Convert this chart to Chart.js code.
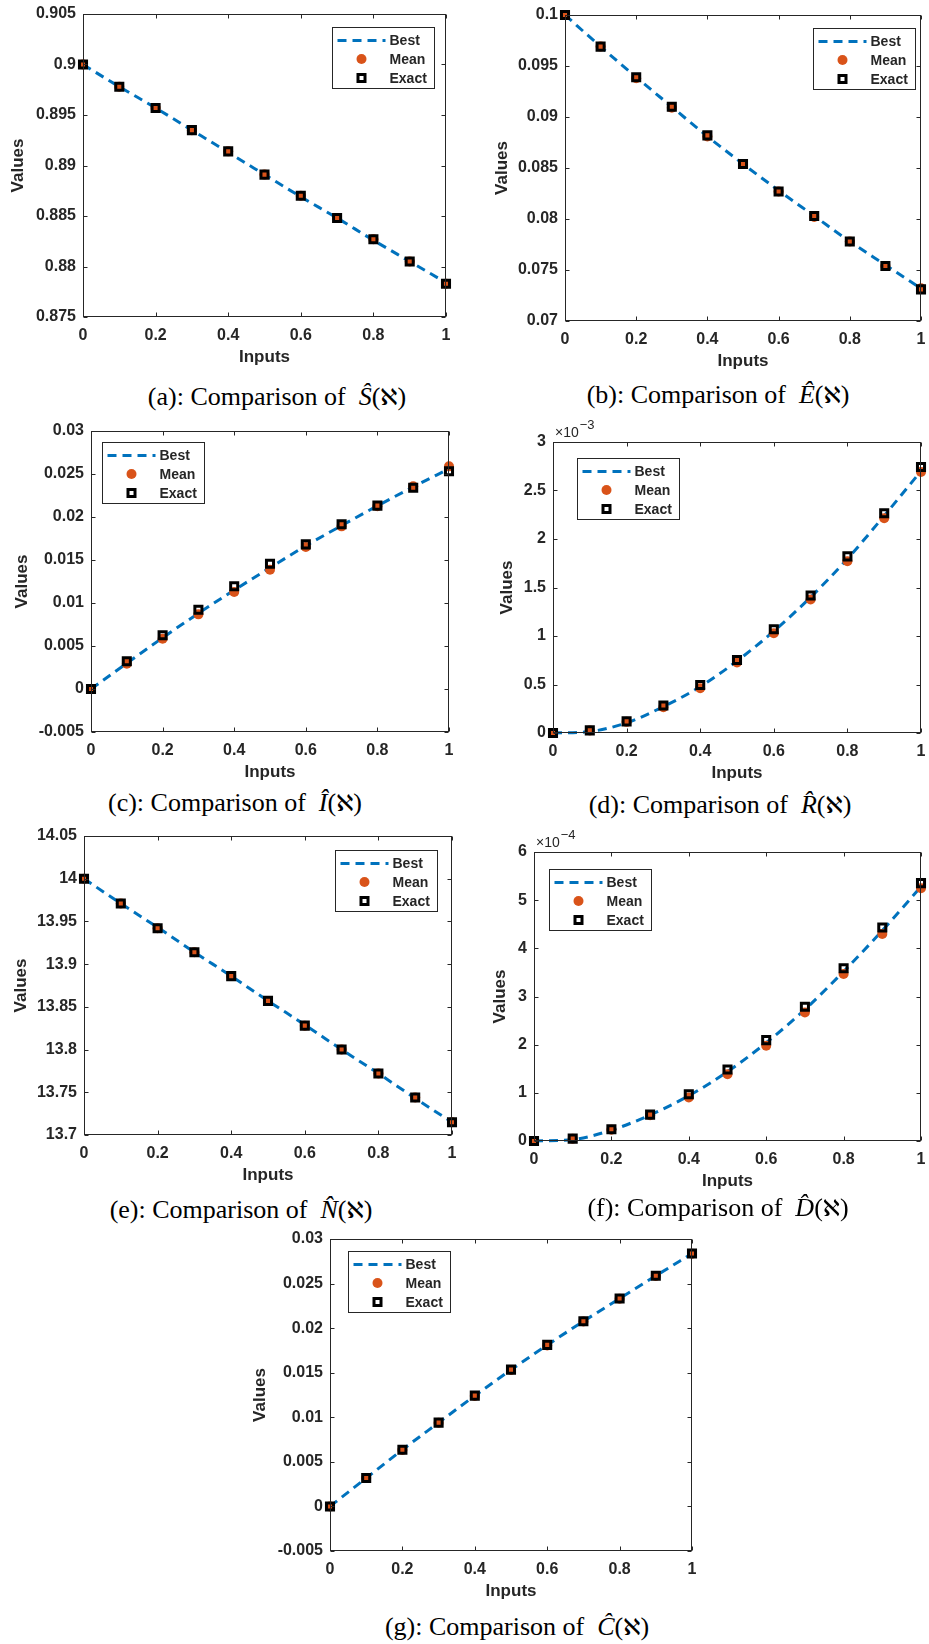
<!DOCTYPE html>
<html>
<head>
<meta charset="utf-8">
<script src="https://cdn.jsdelivr.net/npm/chart.js@4.4.0/dist/chart.umd.min.js"></script>
<style>
  html, body { margin: 0; padding: 0; background: #fff; width: 929px; height: 1644px; overflow: hidden; }
  .panel { position: absolute; }
  .caption {
    position: absolute; width: 440px; text-align: center; white-space: nowrap;
    font-family: "Liberation Serif", "Times New Roman", serif; font-size: 26px; line-height: 30px; color: #000;
  }
  .aleph { font-family: "DejaVu Serif", "DejaVu Sans", serif; font-size: 23px; }
</style>
</head>
<body>
<script>
const inputs = [0, 0.1, 0.2, 0.3, 0.4, 0.5, 0.6, 0.7, 0.8, 0.9, 1];
const xTicks = [0, 0.2, 0.4, 0.6, 0.8, 1];

// (a) S
const sExact = [0.9000, 0.8978, 0.8957, 0.8935, 0.8914, 0.8891, 0.8870, 0.8848, 0.8827, 0.8805, 0.8783];
const sMean = [0.9000, 0.8978, 0.8957, 0.8935, 0.8914, 0.8891, 0.8870, 0.8848, 0.8827, 0.8805, 0.8783];
const sBest = [0.9000, 0.8978, 0.8957, 0.8935, 0.8913, 0.8891, 0.8869, 0.8848, 0.8826, 0.8805, 0.8784];
const sTicks = [0.875, 0.88, 0.885, 0.89, 0.895, 0.9, 0.905];

// (b) E
const eExact = [0.1000, 0.0969, 0.0939, 0.0910, 0.0882, 0.0854, 0.0827, 0.0803, 0.0778, 0.0754, 0.0731];
const eMean = [0.1000, 0.0969, 0.0938, 0.0909, 0.0881, 0.0854, 0.0827, 0.0802, 0.0778, 0.0754, 0.0732];
const eBest = [0.1000, 0.0969, 0.0939, 0.0910, 0.0881, 0.0854, 0.0828, 0.0803, 0.0778, 0.0755, 0.0732];
const eTicks = [0.07, 0.075, 0.08, 0.085, 0.09, 0.095, 0.1];

// (c) I
const iExact = [0, 0.00322, 0.00624, 0.00922, 0.01194, 0.01457, 0.01682, 0.01915, 0.02132, 0.02341, 0.02531];
const iMean = [0, 0.00295, 0.00585, 0.00868, 0.01128, 0.01388, 0.01651, 0.01891, 0.02124, 0.02357, 0.02589];
const iBest = [0, 0.00300, 0.00595, 0.00880, 0.01150, 0.01410, 0.01665, 0.01900, 0.02130, 0.02350, 0.02560];
const iTicks = [-0.005, 0, 0.005, 0.01, 0.015, 0.02, 0.025, 0.03];

// (d) R
const rExact = [0, 0.027e-3, 0.120e-3, 0.284e-3, 0.495e-3, 0.752e-3, 1.069e-3, 1.418e-3, 1.821e-3, 2.265e-3, 2.743e-3];
const rMean = [0, 0.025e-3, 0.115e-3, 0.266e-3, 0.461e-3, 0.728e-3, 1.028e-3, 1.377e-3, 1.770e-3, 2.214e-3, 2.692e-3];
const rBest = [0, 0.015e-3, 0.105e-3, 0.272e-3, 0.478e-3, 0.742e-3, 1.050e-3, 1.400e-3, 1.795e-3, 2.240e-3, 2.700e-3];
const rTicks = [0, 0.5e-3, 1e-3, 1.5e-3, 2e-3, 2.5e-3, 3e-3];

// (e) N
const nExact = [14.000, 13.971, 13.942, 13.914, 13.886, 13.857, 13.828, 13.800, 13.772, 13.744, 13.715];
const nMean = [14.000, 13.971, 13.942, 13.914, 13.886, 13.857, 13.828, 13.800, 13.772, 13.744, 13.715];
const nBest = [14.000, 13.971, 13.943, 13.914, 13.886, 13.857, 13.829, 13.800, 13.772, 13.743, 13.715];
const nTicks = [13.7, 13.75, 13.8, 13.85, 13.9, 13.95, 14, 14.05];

// (f) D
const dExact = [0, 0.049e-4, 0.243e-4, 0.548e-4, 0.971e-4, 1.484e-4, 2.094e-4, 2.788e-4, 3.585e-4, 4.431e-4, 5.354e-4];
const dMean = [0, 0.045e-4, 0.235e-4, 0.535e-4, 0.902e-4, 1.387e-4, 1.977e-4, 2.670e-4, 3.468e-4, 4.300e-4, 5.250e-4];
const dBest = [0, 0.030e-4, 0.225e-4, 0.540e-4, 0.940e-4, 1.440e-4, 2.040e-4, 2.730e-4, 3.520e-4, 4.370e-4, 5.280e-4];
const dTicks = [0, 1e-4, 2e-4, 3e-4, 4e-4, 5e-4, 6e-4];

// (g) C
const cExact = [0, 0.00318, 0.00636, 0.00940, 0.01243, 0.01535, 0.01812, 0.02078, 0.02332, 0.02587, 0.02837];
const cMean = [0, 0.00318, 0.00634, 0.00938, 0.01240, 0.01530, 0.01805, 0.02075, 0.02330, 0.02585, 0.02835];
const cBest = [0, 0.00318, 0.00636, 0.00940, 0.01242, 0.01533, 0.01810, 0.02077, 0.02332, 0.02587, 0.02837];
const cTicks = [-0.005, 0, 0.005, 0.01, 0.015, 0.02, 0.025, 0.03];

const BLUE = "#0072BD";
const ORANGE = "#D95319";
const AXIS = "#262626";
const FONT = '"Liberation Sans", Arial, sans-serif';
const ALEPH = '(<span class="aleph">ℵ</span>)';

// plot: [left, top, right, bottom] of the axes box on the page
const panels = [
    { plot: [83, 14, 446, 317], yTitle: 65, legend: [332, 27], caption: [277, 397], label: "(a): Comparison of&nbsp;&nbsp;<i>Ŝ</i>" + ALEPH, exact: sExact, mean: sMean, best: sBest, yTicks: sTicks },
    { plot: [565, 15, 927, 321], yTitle: 63, legend: [813, 28], caption: [718, 395], label: "(b): Comparison of&nbsp;&nbsp;<i>Ê</i>" + ALEPH, exact: eExact, mean: eMean, best: eBest, yTicks: eTicks },
    { plot: [91, 431, 449, 732], yTitle: 69, legend: [102, 442], caption: [235, 803], label: "(c): Comparison of&nbsp;&nbsp;<i>Î</i>" + ALEPH, exact: iExact, mean: iMean, best: iBest, yTicks: iTicks },
    { plot: [553, 442, 926, 733], yTitle: 46, legend: [577, 458], caption: [720, 805], label: "(d): Comparison of&nbsp;&nbsp;<i>R&#770;</i>" + ALEPH, exact: rExact, mean: rMean, best: rBest, yTicks: rTicks, factor: 1e-3, exp: "−3" },
    { plot: [84, 836, 452, 1135], yTitle: 63, legend: [335, 850], caption: [241, 1210], label: "(e): Comparison of&nbsp;&nbsp;<i>N&#770;</i>" + ALEPH, exact: nExact, mean: nMean, best: nBest, yTicks: nTicks },
    { plot: [534, 852, 926, 1141], yTitle: 34, legend: [549, 869], caption: [718, 1208], label: "(f): Comparison of&nbsp;&nbsp;<i>D&#770;</i>" + ALEPH, exact: dExact, mean: dMean, best: dBest, yTicks: dTicks, factor: 1e-4, exp: "−4" },
    { plot: [330, 1239, 692, 1551], yTitle: 70, legend: [348, 1251], caption: [517, 1627], label: "(g): Comparison of&nbsp;&nbsp;<i>Ĉ</i>" + ALEPH, exact: cExact, mean: cMean, best: cBest, yTicks: cTicks },
];

const fmt = (v, f) => String(Number((v / (f || 1)).toFixed(6)));

// MATLAB-like box, inward ticks, exponent and legend
const matlabAxes = {
    id: "matlabAxes",
    afterDraw(chart, args, opts) {
        const { ctx, chartArea: a } = chart;
        const x = chart.scales.x, y = chart.scales.y;
        const p = opts.panel;
        ctx.save();
        ctx.strokeStyle = AXIS;
        ctx.lineWidth = 1;
        const l = Math.round(a.left) + 0.5, r = Math.round(a.right) - 0.5;
        const t = Math.round(a.top) + 0.5, b = Math.round(a.bottom) - 0.5;
        ctx.strokeRect(l, t, r - l, b - t);
        ctx.beginPath();
        x.ticks.forEach((tk) => {
            const px = Math.round(x.getPixelForValue(tk.value)) + 0.5;
            ctx.moveTo(px, b); ctx.lineTo(px, b - 4);
            ctx.moveTo(px, t); ctx.lineTo(px, t + 4);
        });
        y.ticks.forEach((tk) => {
            const py = Math.round(y.getPixelForValue(tk.value)) + 0.5;
            ctx.moveTo(l, py); ctx.lineTo(l + 4, py);
            ctx.moveTo(r, py); ctx.lineTo(r - 4, py);
        });
        ctx.stroke();

        if (p.exp) {
            ctx.fillStyle = AXIS;
            ctx.textAlign = "left";
            ctx.textBaseline = "middle";
            ctx.font = "14px " + FONT;
            ctx.fillText("×10", a.left + 2, a.top - 9);
            const w = ctx.measureText("×10").width;
            ctx.font = "13px " + FONT;
            ctx.fillText(p.exp, a.left + 3 + w, a.top - 17);
        }

        // legend box
        const lx = p.legend[0] - opts.cl + 0.5, ly = p.legend[1] - opts.ct + 0.5;
        const lw = 102, lh = 61;
        ctx.fillStyle = "#fff";
        ctx.fillRect(lx, ly, lw, lh);
        ctx.strokeStyle = AXIS;
        ctx.lineWidth = 1;
        ctx.strokeRect(lx, ly, lw, lh);
        const rows = [ly + 13, ly + 31.5, ly + 50.5];
        ctx.strokeStyle = BLUE;
        ctx.lineWidth = 3;
        ctx.setLineDash([9, 6]);
        ctx.beginPath();
        ctx.moveTo(lx + 5, rows[0]); ctx.lineTo(lx + 53, rows[0]);
        ctx.stroke();
        ctx.setLineDash([]);
        ctx.fillStyle = ORANGE;
        ctx.beginPath();
        ctx.arc(lx + 29, rows[1], 5, 0, Math.PI * 2);
        ctx.fill();
        ctx.strokeStyle = "#000";
        ctx.lineWidth = 3;
        ctx.strokeRect(lx + 25.5, rows[2] - 3.5, 7, 7);
        ctx.fillStyle = AXIS;
        ctx.font = "bold 14px " + FONT;
        ctx.textAlign = "left";
        ctx.textBaseline = "middle";
        ["Best", "Mean", "Exact"].forEach((s, i) => ctx.fillText(s, lx + 57, rows[i] + 1));
        ctx.restore();
    },
};

function makePanel(p) {
    const [L, T, R, B] = p.plot;
    const topPad = 25, xh = 55;
    const yw = p.yTitle + 11;
    const rpad = Math.min(12, 929 - R);
    const cl = L - yw, ct = T - topPad;
    const div = document.createElement("div");
    div.className = "panel";
    Object.assign(div.style, {
        left: cl + "px", top: ct + "px",
        width: (R - L + yw + rpad) + "px", height: (B - T + topPad + xh) + "px",
    });
    const canvas = document.createElement("canvas");
    div.appendChild(canvas);
    document.body.appendChild(div);

    const cap = document.createElement("div");
    cap.className = "caption";
    cap.innerHTML = p.label;
    cap.style.left = (p.caption[0] - 220) + "px";
    cap.style.top = (p.caption[1] - 15) + "px";
    document.body.appendChild(cap);

    const pts = (arr) => inputs.map((x, i) => ({ x, y: arr[i] }));

    new Chart(canvas, {
        type: "scatter",
        data: {
            datasets: [
                {
                    label: "Exact", data: pts(p.exact), showLine: false, clip: false, order: 0,
                    pointStyle: "rect", pointRadius: 5, pointBorderWidth: 3,
                    pointBorderColor: "#000", pointBackgroundColor: "rgba(0,0,0,0)",
                },
                {
                    label: "Mean", data: pts(p.mean), showLine: false, clip: false, order: 1,
                    pointStyle: "circle", pointRadius: 5, pointBorderWidth: 0,
                    pointBackgroundColor: ORANGE,
                },
                {
                    label: "Best", data: pts(p.best), showLine: true, clip: false, order: 2,
                    borderColor: BLUE, borderWidth: 3, borderDash: [9, 6],
                    pointRadius: 0, cubicInterpolationMode: "monotone",
                },
            ],
        },
        options: {
            responsive: true,
            maintainAspectRatio: false,
            animation: false,
            events: [],
            layout: { padding: { left: 0, right: rpad, top: topPad, bottom: 0 } },
            plugins: {
                legend: { display: false },
                tooltip: { enabled: false },
                matlabAxes: { panel: p, cl, ct },
            },
            scales: {
                x: {
                    type: "linear", min: 0, max: 1,
                    grid: { display: false, drawTicks: false },
                    border: { display: false },
                    afterBuildTicks: (s) => { s.ticks = xTicks.map((v) => ({ value: v })); },
                    afterFit: (s) => { s.height = xh; s.paddingLeft = 0; s.paddingRight = 0; },
                    ticks: { padding: 9, autoSkip: false, maxRotation: 0, color: AXIS,
                             font: { family: FONT, size: 16, weight: "bold" }, callback: (v) => fmt(v) },
                    title: { display: true, text: "Inputs", color: AXIS,
                             font: { family: FONT, size: 17, weight: "bold" }, padding: { top: 0, bottom: 4 } },
                },
                y: {
                    type: "linear", min: p.yTicks[0], max: p.yTicks[p.yTicks.length - 1],
                    grid: { display: false, drawTicks: false },
                    border: { display: false },
                    afterBuildTicks: (s) => { s.ticks = p.yTicks.map((v) => ({ value: v })); },
                    afterFit: (s) => { s.width = yw; },
                    ticks: { padding: 7, autoSkip: false, color: AXIS,
                             font: { family: FONT, size: 16, weight: "bold" }, callback: (v) => fmt(v, p.factor) },
                    title: { display: true, text: "Values", color: AXIS,
                             font: { family: FONT, size: 17, weight: "bold" }, padding: { top: 1, bottom: 0 } },
                },
            },
        },
        plugins: [matlabAxes],
    });
}

panels.forEach(makePanel);
</script>
</body>
</html>
